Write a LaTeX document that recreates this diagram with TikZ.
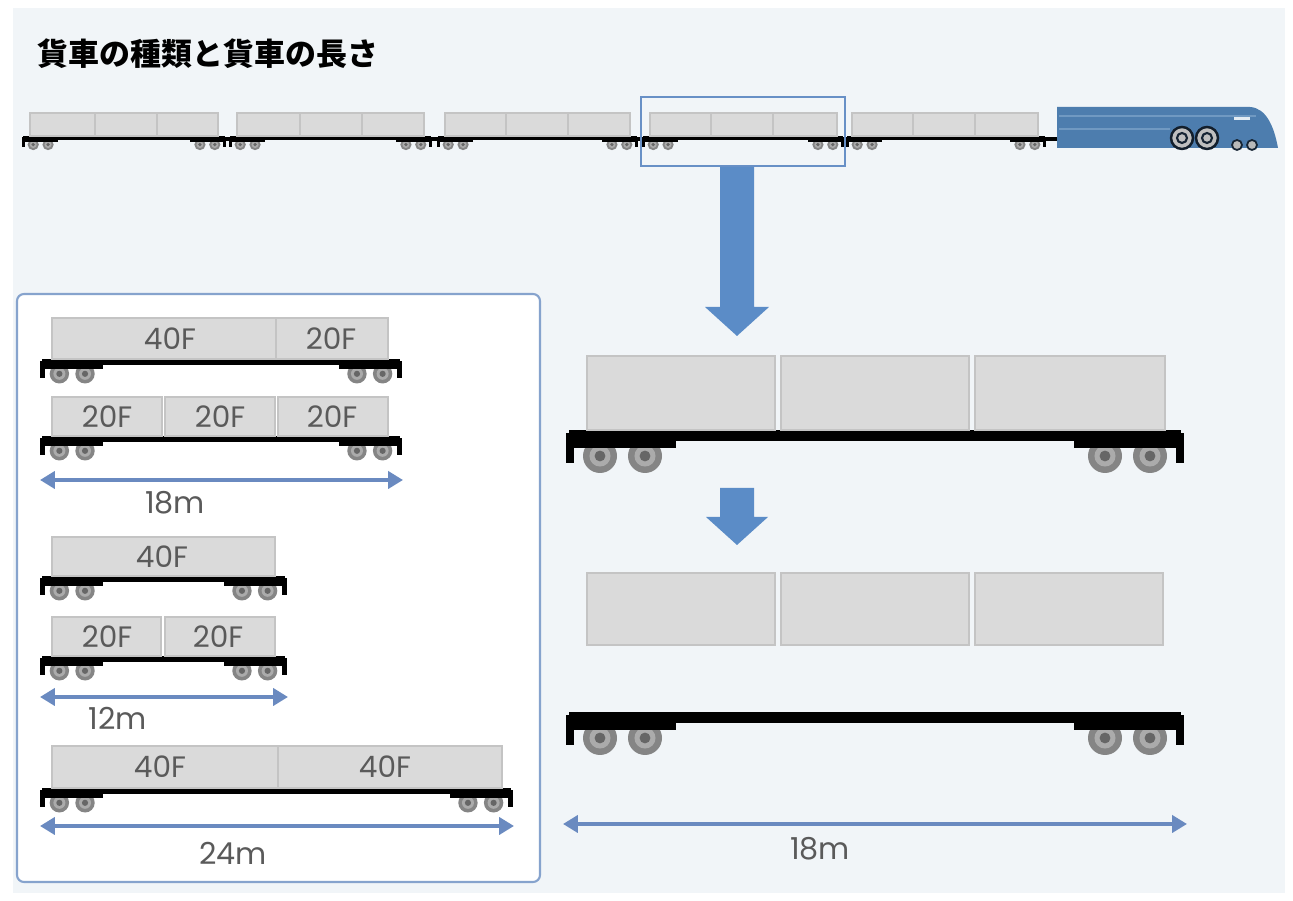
\documentclass[tikz,border=0pt]{standalone}
\usepackage{fontspec}
\usetikzlibrary{arrows.meta}
\newfontfamily\jpfont{Noto Sans CJK JP}
\newfontfamily\lblfont{Poppins}

\definecolor{bgpanel}{HTML}{F1F5F8}
\definecolor{boxline}{HTML}{86A3CD}
\definecolor{selline}{HTML}{6890C6}
\definecolor{arrowblue}{HTML}{5B8CC7}
\definecolor{dimblue}{HTML}{6A8AC0}
\definecolor{cont}{HTML}{DADADA}
\definecolor{contline}{HTML}{C4C4C4}
\definecolor{wheel}{HTML}{858585}
\definecolor{wheelring}{HTML}{ABABAB}
\definecolor{wheelhub}{HTML}{666666}
\definecolor{loco}{HTML}{4D7DAE}
\definecolor{locostripe}{HTML}{7099C2}
\definecolor{txtgrey}{HTML}{5A5A5A}

% one wheel: centre x, centre y, radius
\newcommand{\carwheel}[3]{%
  \fill[wheel] (#1,#2) circle[radius=#3];
  \fill[wheelring] (#1,#2) circle[radius={0.62*#3}];
  \fill[wheelhub] (#1,#2) circle[radius={0.32*#3}];
}
% flat wagon: left x, right x, beam top y, scale
\newcommand{\flatcar}[4]{%
  \carwheel{#1+34*#4}{#3+26*#4}{17*#4}
  \carwheel{#1+79*#4}{#3+26*#4}{17*#4}
  \carwheel{#2-34*#4}{#3+26*#4}{17*#4}
  \carwheel{#2-79*#4}{#3+26*#4}{17*#4}
  \fill[black] ({#1+3*#4},#3) rectangle ({#2-3*#4},{#3+11*#4});
  \fill[black] ({#1+3*#4},#3) rectangle ({#1+110*#4},{#3+18*#4});
  \fill[black] ({#2-3*#4},#3) rectangle ({#2-110*#4},{#3+18*#4});
  \fill[black] (#1,{#3+3*#4}) rectangle ({#1+8*#4},{#3+33*#4});
  \fill[black] (#2,{#3+3*#4}) rectangle ({#2-8*#4},{#3+33*#4});
}
% container box: left x, right x, top y, bottom y
\newcommand{\cbox}[4]{%
  \draw[contbox] (#1,#3) rectangle (#2,#4);
}

\tikzset{
  contbox/.style={fill=cont, draw=contline, line width=0.3pt},
  clabel/.style={font=\lblfont\fontsize{8.4pt}{10pt}\selectfont, text=txtgrey, inner sep=0pt},
  dimlabel/.style={font=\lblfont\fontsize{8.6pt}{10pt}\selectfont, text=txtgrey, inner sep=0pt},
  dimarrow/.style={draw=dimblue, line width=1.25pt,
    {Triangle[length=4.2pt,width=4.8pt]}-{Triangle[length=4.2pt,width=4.8pt]}},
  bigarrow/.style={fill=arrowblue},
}

\begin{document}
\begin{tikzpicture}[x=0.01cm, y=-0.01cm]
\useasboundingbox (0,0) rectangle (1293,901);
\fill[white] (0,0) rectangle (1293,901);
\fill[bgpanel] (13,8) rectangle (1285,893);

% heading
\node[anchor=west, inner sep=0pt, font=\jpfont\bfseries\fontsize{8.8pt}{10pt}\selectfont] (title) at (37,54) {貨車の種類と貨車の長さ};

% ---------- train along the top ----------
\foreach \xa/\xb in {22/226, 229/432, 437/638, 642/844, 846/1046}{
  \flatcar{\xa}{\xb}{136}{0.33}
}
\foreach \xa/\xb/\xc/\xd in {30/95/157/218, 237/300/362/424, 445/506/568/630, 650/711/773/837, 852/913/975/1038}{
  \cbox{\xa}{\xb}{113}{136}
  \cbox{\xb}{\xc}{113}{136}
  \cbox{\xc}{\xd}{113}{136}
}
% couplers
\foreach \xa/\xb in {224/231, 430/439, 636/644, 842/848, 1044/1060}{
  \fill[black] (\xa,137) rectangle (\xb,141);
}
% locomotive
\fill[loco] (1057,107) -- (1250,107) .. controls (1266,108) and (1274,126) .. (1278,148) -- (1057,148) -- cycle;
\draw[locostripe, line width=0.35pt] (1059,116) -- (1256,116);
\draw[locostripe, line width=0.35pt] (1059,129) -- (1170,129);
\fill[white!85!loco] (1234,117.5) rectangle (1250,120);
\foreach \wx in {1182,1207}{
  \fill[white!50!gray] (\wx,138) circle[radius=11];
  \draw[black!75!loco, line width=0.7pt] (\wx,138) circle[radius=11];
  \draw[black!70!loco, line width=0.6pt] (\wx,138) circle[radius=5];
}
\foreach \wx in {1237,1252}{
  \fill[white!45!gray] (\wx,145) circle[radius=5];
  \draw[black!70!loco, line width=0.5pt] (\wx,145) circle[radius=5];
}
% selected wagon frame
\draw[selline, line width=0.6pt] (641,97) rectangle (845,166);

% ---------- arrows ----------
\fill[bigarrow] (720,167) -- (754,167) -- (754,307) -- (769,307) -- (737,336) -- (705,307) -- (720,307) -- cycle;
\fill[bigarrow] (720,488) -- (754,488) -- (754,517) -- (768,517) -- (737,545) -- (706,517) -- (720,517) -- cycle;

% ---------- large wagon, loaded ----------
\flatcar{566}{1184}{430}{1}
\cbox{587}{775}{356}{430}
\cbox{781}{969}{356}{430}
\cbox{975}{1165}{356}{430}

% ---------- containers lifted off ----------
\cbox{587}{775}{573}{645}
\cbox{781}{969}{573}{645}
\cbox{975}{1163}{573}{645}

% ---------- empty wagon ----------
\flatcar{566}{1184}{712}{1}

\coordinate (bigL) at (563,824);
\coordinate (bigR) at (1187,824);
\draw[dimarrow] (bigL) -- (bigR);
\node[dimlabel] (lenbig) at (820,849) {18m};

% ---------- panel of wagon types ----------
\draw[boxline, fill=white, line width=0.6pt, rounded corners=2pt] (17,294) rectangle (540,882);

% 18 m wagon: 40F + 20F
\flatcar{40}{402}{359}{0.57}
\cbox{52}{276}{318}{359}
\cbox{276}{388}{318}{359}
\node[clabel] (a1) at (170,339) {40F};
\node[clabel] (a2) at (331,339) {20F};

% 18 m wagon: 3 x 20F
\flatcar{40}{402}{436}{0.57}
\cbox{52}{162}{397}{436}
\cbox{165}{275}{397}{436}
\cbox{278}{388}{397}{436}
\node[clabel] (b1) at (107,417) {20F};
\node[clabel] (b2) at (220,417) {20F};
\node[clabel] (b3) at (332,417) {20F};

\coordinate (d18L) at (40,480);
\coordinate (d18R) at (403,480);
\draw[dimarrow] (d18L) -- (d18R);
\node[dimlabel] (len18) at (175,503) {18m};

% 12 m wagon: 40F
\flatcar{40}{287}{576}{0.57}
\cbox{52}{275}{537}{576}
\node[clabel] (c1) at (162,557) {40F};

% 12 m wagon: 2 x 20F
\flatcar{40}{287}{656}{0.57}
\cbox{52}{161}{617}{656}
\cbox{165}{275}{617}{656}
\node[clabel] (e1) at (107,637) {20F};
\node[clabel] (e2) at (218,637) {20F};

\coordinate (d12L) at (40,697);
\coordinate (d12R) at (288,697);
\draw[dimarrow] (d12L) -- (d12R);
\node[dimlabel] (len12) at (118,718) {12m};

% 24 m wagon: 2 x 40F
\flatcar{40}{513}{788}{0.57}
\cbox{52}{278}{746}{788}
\cbox{278}{502}{746}{788}
\node[clabel] (f1) at (160,767) {40F};
\node[clabel] (f2) at (385,767) {40F};

\coordinate (d24L) at (40,826);
\coordinate (d24R) at (514,826);
\draw[dimarrow] (d24L) -- (d24R);
\node[dimlabel] (len24) at (233,853) {24m};
\end{tikzpicture}
\end{document}
